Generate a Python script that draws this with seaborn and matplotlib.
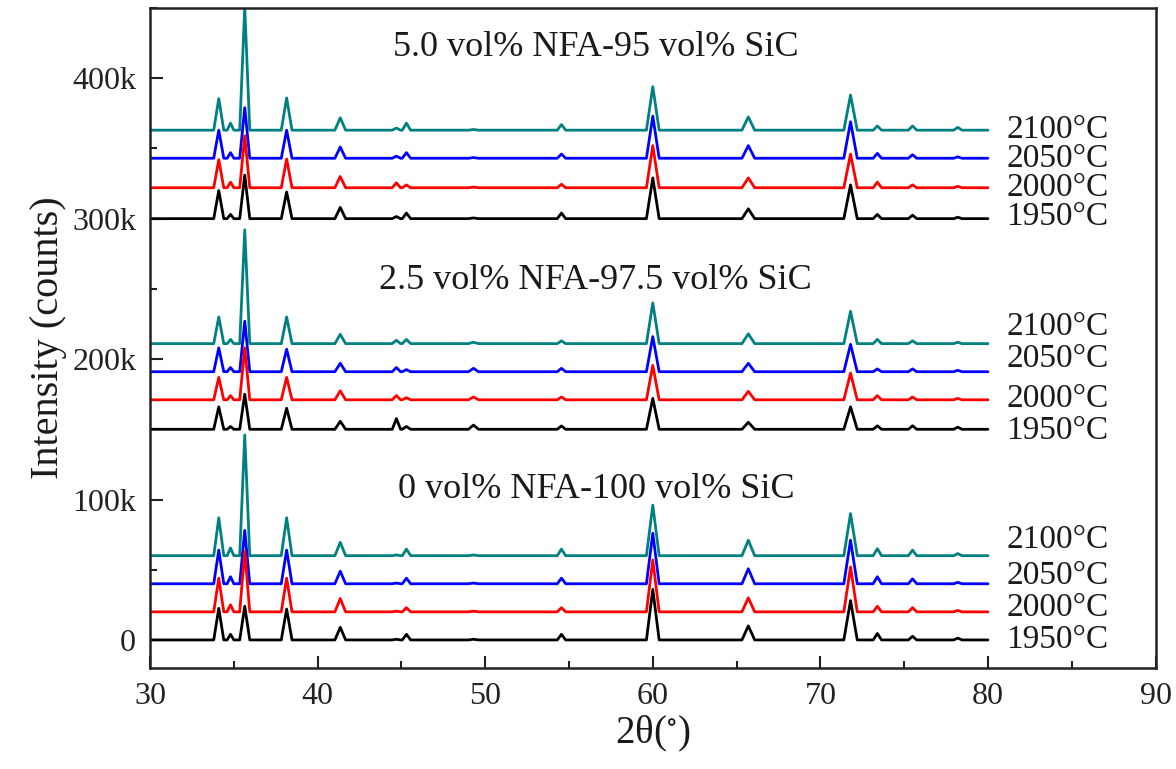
import numpy as np
import pandas as pd
import seaborn as sns
import matplotlib.pyplot as plt
from matplotlib.ticker import FuncFormatter, MultipleLocator

# peak positions (2theta) and half base widths
peak_pos = [34.1, 34.8, 35.65, 38.15, 41.35, 44.7, 45.3, 49.3, 54.55, 60.0, 65.7, 71.8, 73.4, 75.5, 78.2]
peak_hw = [0.3, 0.2, 0.3, 0.32, 0.32, 0.25, 0.25, 0.3, 0.25, 0.38, 0.38, 0.4, 0.25, 0.25, 0.25]

temps = ['2100', '2050', '2000', '1950']
colors = ['#008080', '#0000ff', '#ff0000', '#000000']

# peak heights above baseline (k counts), one list per temperature
top_heights = {
    '2100': [22.5, 5, 88, 23, 8.8, 1.5, 5, 0.5, 4, 31, 9.4, 25, 3, 3, 2],
    '2050': [20, 4, 36, 20, 8, 1.5, 4, 0.5, 3, 30, 9, 26, 3.5, 2.5, 1],
    '2000': [20, 4, 37, 20.5, 8, 3.5, 2, 0.5, 2.5, 30, 7, 24, 4, 2, 1],
    '1950': [20, 3, 31, 19, 8, 1.5, 4, 0.5, 4, 29, 7, 24, 3, 2.5, 1],
}
mid_heights = {
    '2100': [19, 3, 81, 19, 6.6, 2.4, 3, 1, 2, 29, 7, 23, 3, 2, 1],
    '2050': [17, 3, 36, 16, 6, 3, 1.5, 2.4, 2.4, 25, 6, 19.5, 2, 2, 1],
    '2000': [16, 3, 37, 16, 6.4, 3, 1.5, 2, 2, 24.5, 6, 19, 3, 2, 1],
    '1950': [16, 2, 25, 15, 5.7, 7.6, 2, 3, 2.4, 22, 5, 16, 2.5, 2.5, 1.5],
}
bot_heights = {
    '2100': [27, 5.5, 86, 27, 9.5, 0.5, 4.7, 0.5, 4.7, 36, 11, 30, 5, 4, 1.5],
    '2050': [24, 5, 38, 24, 9, 0.5, 4, 0.5, 4, 36, 10.7, 31, 5, 3.5, 1],
    '2000': [24, 5, 43, 24, 9.5, 0.5, 3, 0.5, 3, 37, 10, 32, 4, 3, 1],
    '1950': [22.5, 4, 24, 22, 9, 0.5, 4, 0.5, 4, 36, 10, 28, 4.6, 2.6, 1.3],
}

# baselines of the stacked patterns (k counts)
top_base = [363, 343, 322, 300]
mid_base = [211, 191, 171, 150]
bot_base = [60, 40, 20, 0]

groups = [
    ('5.0 vol% NFA-95 vol% SiC', top_heights, top_base, 422),
    ('2.5 vol% NFA-97.5 vol% SiC', mid_heights, mid_base, 256),
    ('0 vol% NFA-100 vol% SiC', bot_heights, bot_base, 107),
]
label_y = {
    '5.0 vol% NFA-95 vol% SiC': [363, 343, 322, 301],
    '2.5 vol% NFA-97.5 vol% SiC': [223, 200, 172, 149],
    '0 vol% NFA-100 vol% SiC': [71, 46, 23, 0],
}


def build_pattern(heights, base):
    xs = [30.0]
    ys = [base]
    for p, w, h in zip(peak_pos, peak_hw, heights):
        xs += [p - w, p, p + w]
        ys += [base, base + h, base]
    xs.append(80.0)
    ys.append(base)
    return xs, np.array(ys) * 1000


sns.set_style('ticks')
plt.rcParams['font.family'] = ['Liberation Serif', 'DejaVu Serif']
plt.rcParams['mathtext.fontset'] = 'stix'

fig = plt.figure(figsize=(11.76, 7.69), dpi=100)
ax = fig.add_axes([0.1276, 0.1313, 0.855, 0.8583])

txt = '#1a1a1a'
for title, heights, bases, ty in groups:
    rows = []
    for t, b in zip(temps, bases):
        xs, ys = build_pattern(heights[t], b)
        rows.append(pd.DataFrame({'theta': xs, 'counts': ys, 'temp': t}))
    df = pd.concat(rows, ignore_index=True)
    sns.lineplot(data=df, x='theta', y='counts', hue='temp', hue_order=temps,
                 palette=colors, estimator=None, sort=False, linewidth=2.0,
                 legend=False, ax=ax)
    ax.text(56.6, ty * 1000, title, ha='center', va='center', fontsize=26, color=txt)
    for t, ly in zip(temps, label_y[title]):
        ax.text(81.1, ly * 1000, t + '°C', ha='left', va='center', fontsize=24, color=txt)

ax.set_xlim(30, 90)
ax.set_ylim(-20000, 450000)
ax.xaxis.set_major_locator(MultipleLocator(10))
ax.xaxis.set_minor_locator(MultipleLocator(5))
ax.yaxis.set_major_locator(MultipleLocator(100000))
ax.yaxis.set_minor_locator(MultipleLocator(50000))
ax.yaxis.set_major_formatter(FuncFormatter(lambda v, p: '0' if v == 0 else f'{int(v / 1000)}k'))
ax.tick_params(which='both', direction='in', top=False, right=False, width=1.5, colors='#222222')
ax.tick_params(which='major', length=9, labelsize=23, pad=10)
ax.tick_params(which='minor', length=5)
for s in ax.spines.values():
    s.set_linewidth(1.8)
    s.set_color('#222222')

ax.set_xlabel('2θ($^{\\circ}$)', fontsize=28, color=txt, labelpad=2)
ax.set_ylabel('Intensity (counts)', fontsize=29, color=txt, labelpad=4)

fig.savefig('out.png', dpi=100)
